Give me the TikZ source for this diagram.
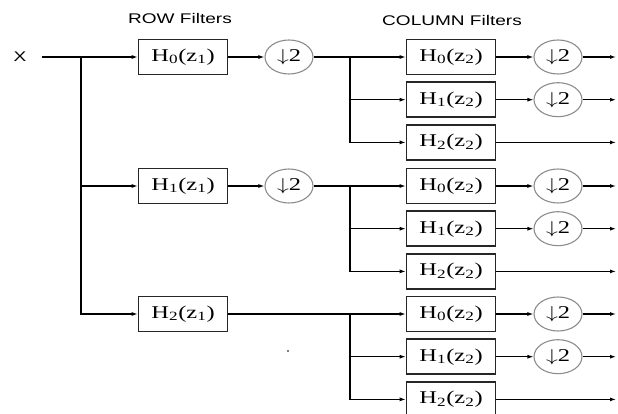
\documentclass[tikz,border=0pt]{standalone}
\usepackage{graphicx}
\usepackage{fontspec}
\setmainfont{Liberation Serif}
\newfontfamily\labelfont{Liberation Sans}
\usetikzlibrary{arrows.meta,shapes.geometric}
\newcommand\wide[1]{\scalebox{1.36}[1]{#1}}
\newcommand\Hf[2]{\wide{H\textsubscript{#1}(z\textsubscript{#2})}}
\newcommand\dn{\wide{$\downarrow$2}}
\begin{document}
\begin{tikzpicture}[x=1pt,y=-1pt,
  filt/.style={draw=black!85, line width=1.6pt, minimum width=89pt, minimum height=35pt, inner sep=0pt, font=\fontsize{18}{18}\selectfont},
  dec/.style={ellipse, draw=black!45, line width=1.1pt, minimum width=48pt, minimum height=34pt, inner sep=0pt, font=\fontsize{18}{18}\selectfont},
  wire/.style={line width=1.1pt},
  arr/.style={wire, -{Latex[length=6pt,width=4pt]}},
  lbl/.style={font=\labelfont\fontsize{14}{14}\selectfont}]
\useasboundingbox (0,0) rectangle (618,414);
\node[lbl] (rowlbl) at (180,18) {\wide{ROW Filters}};
\node[lbl] (collbl) at (452,20) {\wide{COLUMN Filters}};
\node[lbl] (x) at (20,57) {\wide{X}};
\coordinate (in) at (42,57);
\coordinate (sp) at (81,57);
\node[filt] (r0) at (183,57) {\Hf01};
\node[filt] (r1) at (183,186) {\Hf11};
\node[filt] (r2) at (183,314) {\Hf21};
\node[dec] (d0) at (289,57) {\dn};
\node[dec] (d1) at (289,186) {\dn};
\draw[wire] (in) -- (sp);
\draw[arr] (sp) -- (r0);
\draw[arr] (sp) |- (r1);
\draw[arr] (sp) |- (r2);
\draw[arr] (r0) -- (d0);
\draw[arr] (r1) -- (d1);
\coordinate (s0) at (350,57);
\coordinate (s1) at (350,186);
\coordinate (s2) at (350,314);
\draw[wire] (d0) -- (s0);
\draw[wire] (d1) -- (s1);
\draw[wire] (r2) -- (s2);
\foreach \g/\y in {0/57,1/186,2/314} {
  \node[filt] (ca\g) at (451,\y) {\Hf02};
  \node[filt] (cb\g) at (451,\y+42.7) {\Hf12};
  \node[filt] (cc\g) at (451,\y+85.4) {\Hf22};
  \node[dec] (ea\g) at (558,\y) {\dn};
  \node[dec] (eb\g) at (558,\y+42.7) {\dn};
  \coordinate (oa\g) at (616,\y);
  \coordinate (ob\g) at (616,\y+42.7);
  \coordinate (oc\g) at (616,\y+85.4);
  \draw[arr] (s\g) -- (ca\g);
  \draw[arr] (s\g) |- (cb\g);
  \draw[arr] (s\g) |- (cc\g);
  \draw[arr] (ca\g) -- (ea\g);
  \draw[arr] (cb\g) -- (eb\g);
  \draw[arr] (ea\g) -- (oa\g);
  \draw[arr] (eb\g) -- (ob\g);
  \draw[arr] (cc\g) -- (oc\g);
}
\fill (288,351) circle (0.8);
\end{tikzpicture}
\end{document}
